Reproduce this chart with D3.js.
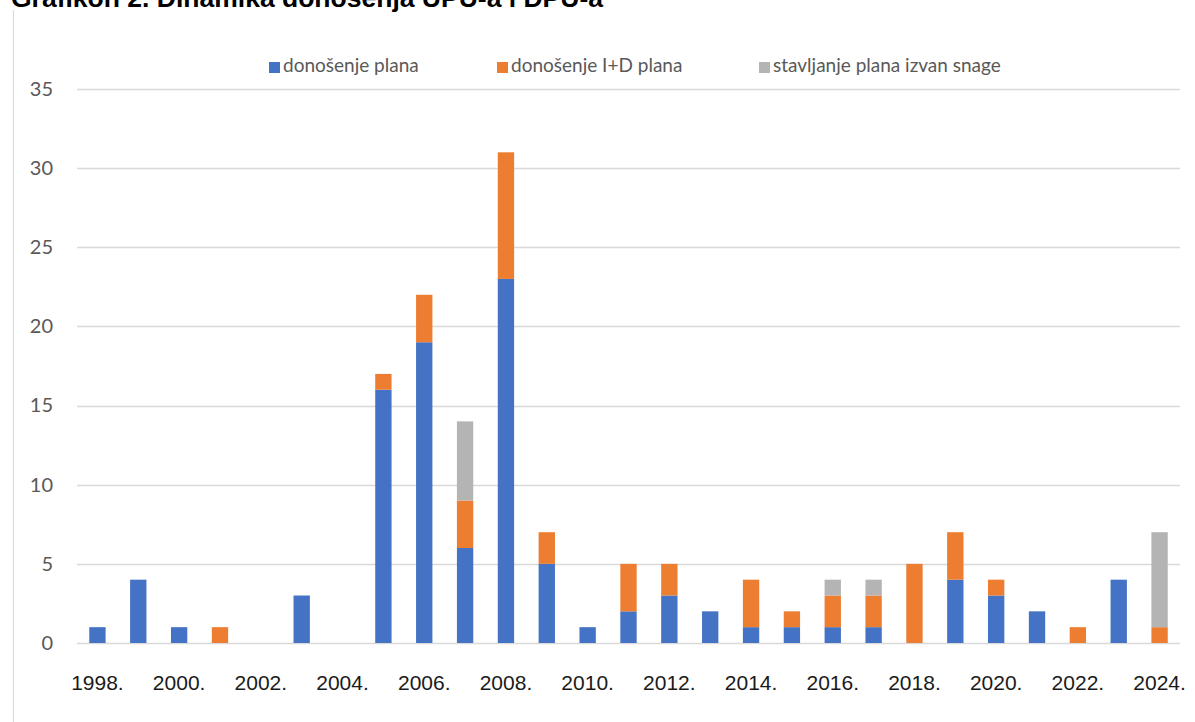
<!DOCTYPE html>
<html>
<head>
<meta charset="utf-8">
<script src="https://cdn.jsdelivr.net/npm/d3@7"></script>
<style>
  html, body { margin: 0; padding: 0; background: #fff; }
  svg { display: block; }
</style>
</head>
<body>
<svg id="chart" width="1195" height="722"></svg>
<script>
// Godine (kategorije na osi x)
const years = [1998, 1999, 2000, 2001, 2002, 2003, 2004, 2005, 2006, 2007, 2008, 2009, 2010,
               2011, 2012, 2013, 2014, 2015, 2016, 2017, 2018, 2019, 2020, 2021, 2022, 2023, 2024];

// Broj planova po godini za svaku seriju
const donosenjePlana = [1, 4, 1, 0, 0, 3, 0, 16, 19, 6, 23, 5, 1, 2, 3, 2, 1, 1, 1, 1, 0, 4, 3, 2, 0, 4, 0];
const donosenjeIDPlana = [0, 0, 0, 1, 0, 0, 0, 1, 3, 3, 8, 2, 0, 3, 2, 0, 3, 1, 2, 2, 5, 3, 1, 0, 1, 0, 1];
const stavljanjeIzvanSnage = [0, 0, 0, 0, 0, 0, 0, 0, 0, 5, 0, 0, 0, 0, 0, 0, 0, 0, 1, 1, 0, 0, 0, 0, 0, 0, 6];

const seriesNames = ["donošenje plana", "donošenje I+D plana", "stavljanje plana izvan snage"];
const seriesColors = ["#4472C4", "#ED7D31", "#B4B4B4"];
const yTicks = [0, 5, 10, 15, 20, 25, 30, 35];
const xTickYears = years.filter(y => y % 2 === 0);
const title = "Grafikon 2. Dinamika donošenja UPU-a i DPU-a";

const svg = d3.select("#chart");

// Naslov (gornji dio izvan okvira slike)
svg.append("text")
  .attr("x", 11).attr("y", 7)
  .attr("font-family", "'Liberation Sans', Arial, sans-serif")
  .attr("font-weight", "bold")
  .attr("font-size", 26.5)
  .attr("fill", "#000")
  .text(title);

// Lijevi rub okvira grafikona
svg.append("line")
  .attr("x1", 13.5).attr("x2", 13.5)
  .attr("y1", 10).attr("y2", 722)
  .attr("stroke", "#d9d9d9").attr("stroke-width", 1);

const plot = { left: 77, right: 1180, top: 89, bottom: 643 };

const x = d3.scaleBand()
  .domain(years)
  .range([plot.left, plot.right])
  .paddingInner(0.6)
  .paddingOuter(0.3);

const y = d3.scaleLinear()
  .domain([0, 35])
  .range([plot.bottom, plot.top]);

// Vodoravne linije mreže
svg.append("g")
  .selectAll("line")
  .data(yTicks)
  .join("line")
  .attr("x1", plot.left).attr("x2", plot.right)
  .attr("y1", d => Math.round(y(d)) + 0.5)
  .attr("y2", d => Math.round(y(d)) + 0.5)
  .attr("stroke", "#d9d9d9").attr("stroke-width", 1.5);

// Oznake osi y
const yAxis = d3.axisLeft(y).tickValues(yTicks).tickSize(0).tickPadding(0);
const gy = svg.append("g")
  .attr("transform", `translate(${plot.left - 24},0)`)
  .call(yAxis);
gy.select(".domain").remove();
gy.selectAll("text")
  .attr("font-family", "Lato, sans-serif")
  .attr("font-size", 20)
  .attr("fill", "#595959");

// Oznake osi x (svaka druga godina)
const xAxis = d3.axisBottom(x)
  .tickValues(xTickYears)
  .tickFormat(d => d + ".")
  .tickSize(0).tickPadding(0);
const gx = svg.append("g")
  .attr("transform", `translate(0,${plot.bottom + 32})`)
  .call(xAxis);
gx.select(".domain").remove();
gx.selectAll("text")
  .attr("font-family", "'Liberation Sans', Arial, sans-serif")
  .attr("font-size", 21)
  .attr("fill", "#1a1a1a");

// Složeni stupci
const table = years.map((yr, i) => ({
  year: yr,
  [seriesNames[0]]: donosenjePlana[i],
  [seriesNames[1]]: donosenjeIDPlana[i],
  [seriesNames[2]]: stavljanjeIzvanSnage[i]
}));
const stacked = d3.stack().keys(seriesNames)(table);

svg.append("g")
  .selectAll("g")
  .data(stacked)
  .join("g")
  .attr("fill", (d, i) => seriesColors[i])
  .selectAll("rect")
  .data(d => d.filter(p => p[1] > p[0]))
  .join("rect")
  .attr("x", d => x(d.data.year))
  .attr("width", x.bandwidth())
  .attr("y", d => y(d[1]))
  .attr("height", d => y(d[0]) - y(d[1]));

// Legenda
const legendItems = [
  { name: seriesNames[0], color: seriesColors[0], x: 269 },
  { name: seriesNames[1], color: seriesColors[1], x: 497 },
  { name: seriesNames[2], color: seriesColors[2], x: 759 }
];
const lg = svg.append("g")
  .selectAll("g")
  .data(legendItems)
  .join("g")
  .attr("transform", d => `translate(${d.x},0)`);
lg.append("rect")
  .attr("x", 0).attr("y", 62)
  .attr("width", 11).attr("height", 11)
  .attr("fill", d => d.color);
lg.append("text")
  .attr("x", 14).attr("y", 72)
  .attr("font-family", "Lato, sans-serif")
  .attr("font-size", 19)
  .attr("fill", "#595959")
  .text(d => d.name);
</script>
</body>
</html>
